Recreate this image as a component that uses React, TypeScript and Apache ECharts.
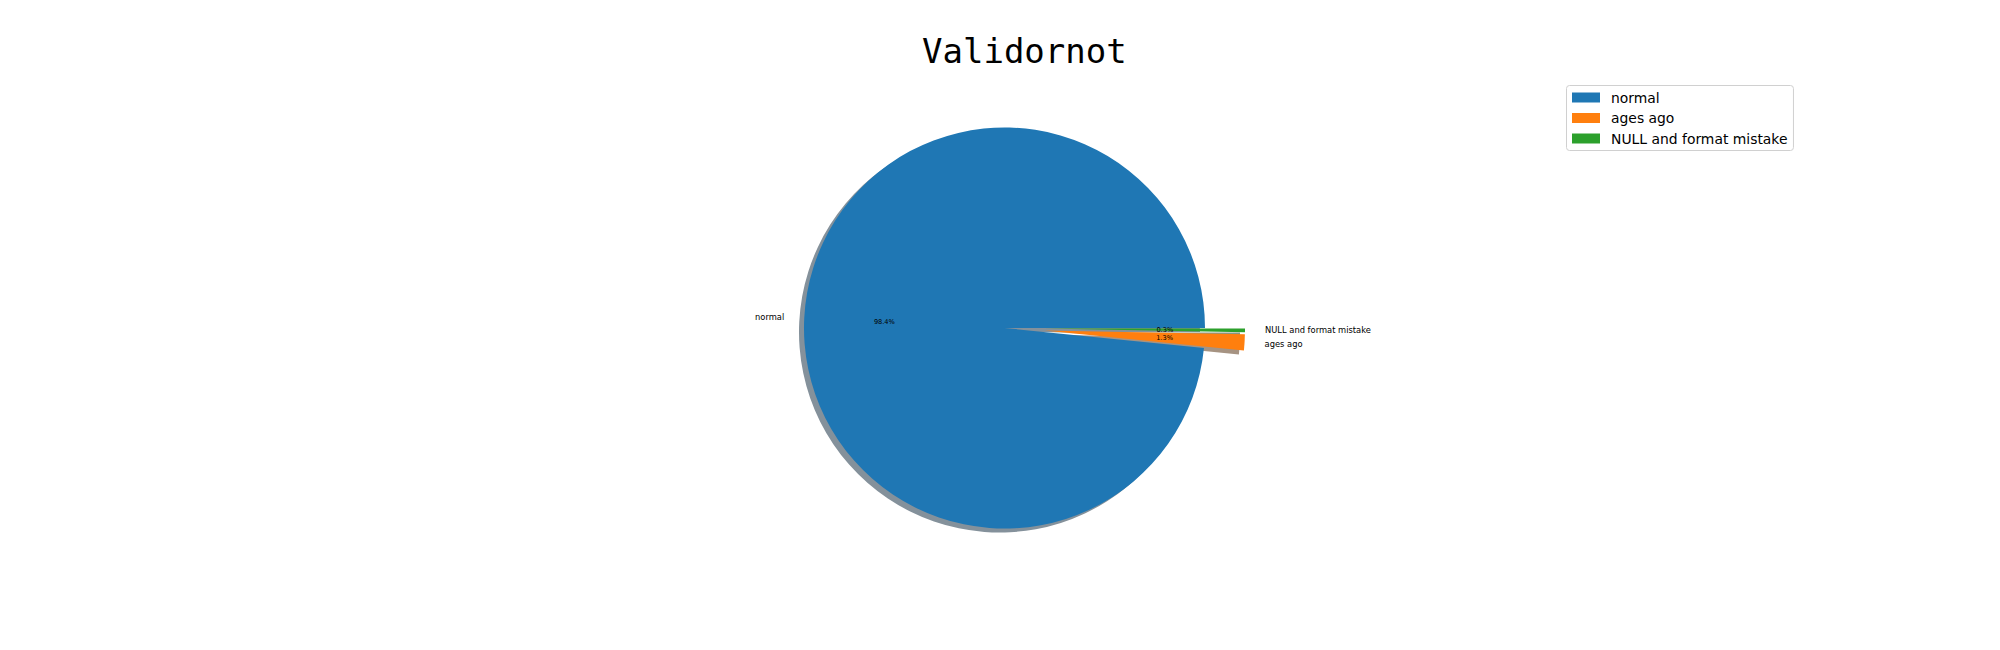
import React, { useEffect, useRef } from "react";
import * as echarts from "echarts";

const titleText = "Validornot";
const categories = ["normal", "ages ago", "NULL and format mistake"];
const shares = [98.4, 1.3, 0.3];
const exploded = [false, true, true];
const colors = ["#1f77b4", "#ff7f0e", "#2ca02c"];

const CX = 1004.5;
const CY = 328;
const R = 200.5;
const EXPLODE = 40;

function shadowColor(hex: string): string {
  const r = parseInt(hex.slice(1, 3), 16);
  const g = parseInt(hex.slice(3, 5), 16);
  const b = parseInt(hex.slice(5, 7), 16);
  const mix = (c: number) => Math.round(0.3 * c * 0.5 + 255 * 0.5);
  return `rgb(${mix(r)},${mix(g)},${mix(b)})`;
}

export default function App() {
  const ref = useRef<HTMLDivElement>(null);
  useEffect(() => {
    if (!ref.current) return;
    const chart = echarts.init(ref.current, undefined, { renderer: "svg" });
    const baseData = categories.map((name, i) => ({
      name,
      value: shares[i],
      selected: exploded[i],
    }));
    const common = {
      type: "pie" as const,
      startAngle: 0,
      clockwise: false,
      selectedMode: "multiple" as const,
      selectedOffset: EXPLODE,
      avoidLabelOverlap: false,
      minAngle: 0,
      minShowLabelAngle: 0,
      emphasis: { disabled: true },
      animation: false,
    };
    chart.setOption({
      animation: false,
      title: {
        text: titleText,
        left: 922,
        top: 34,
        padding: 0,
        textStyle: {
          fontFamily: "DejaVu Sans Mono",
          fontSize: 34,
          fontWeight: "normal",
          color: "#000",
        },
      },
      legend: {
        orient: "vertical",
        left: 1566.5,
        top: 85.5,
        padding: [5, 6, 5, 5.5],
        itemWidth: 28,
        itemHeight: 10,
        itemGap: 6.5,
        icon: "rect",
        borderColor: "#d0d0d0",
        borderWidth: 1,
        borderRadius: 3,
        selectedMode: false,
        textStyle: {
          fontFamily: "DejaVu Sans",
          fontSize: 13.9,
          color: "#000",
          padding: [0, 0, 0, 6],
        },
        data: categories.map((name, i) => ({
          name,
          itemStyle: { color: colors[i] },
        })),
      },
      series: [
        {
          ...common,
          name: "main",
          z: 2,
          center: [CX, CY],
          radius: [0, R],
          data: baseData.map((d, i) => ({
            ...d,
            itemStyle: { color: colors[i], borderWidth: 0 },
          })),
          label: {
            show: true,
            position: "outside",
            formatter: "{b}",
            fontFamily: "DejaVu Sans",
            fontSize: 8.33,
            color: "#000",
            distanceToLabelLine: 0,
          },
          labelLine: { show: false, length: 0.1 * R, length2: 0 },
        },
        {
          ...common,
          name: "shadow",
          z: 1,
          silent: true,
          center: [CX - 5, CY + 4],
          radius: [0, R],
          data: baseData.map((d, i) => ({
            ...d,
            itemStyle: { color: shadowColor(colors[i]), borderWidth: 0 },
          })),
          label: { show: false },
          labelLine: { show: false },
        },
        {
          ...common,
          name: "pct",
          z: 3,
          silent: true,
          center: [CX, CY],
          radius: [0, 0.6 * R],
          data: baseData.map((d) => ({
            ...d,
            itemStyle: { color: "rgba(0,0,0,0)", borderWidth: 0 },
          })),
          label: {
            show: true,
            position: "outside",
            formatter: (p: any) => p.value.toFixed(1) + "%",
            fontFamily: "DejaVu Sans",
            fontSize: 6.6,
            color: "#000",
            distanceToLabelLine: 0,
          },
          labelLine: { show: false, length: 0, length2: 0 },
          labelLayout: () => ({ align: "center", hideOverlap: false }),
        },
      ],
    });
    return () => chart.dispose();
  }, []);
  return (
    <div
      ref={ref}
      style={{ position: "fixed", left: 0, top: 0, width: 2000, height: 650, background: "#fff" }}
    />
  );
}
